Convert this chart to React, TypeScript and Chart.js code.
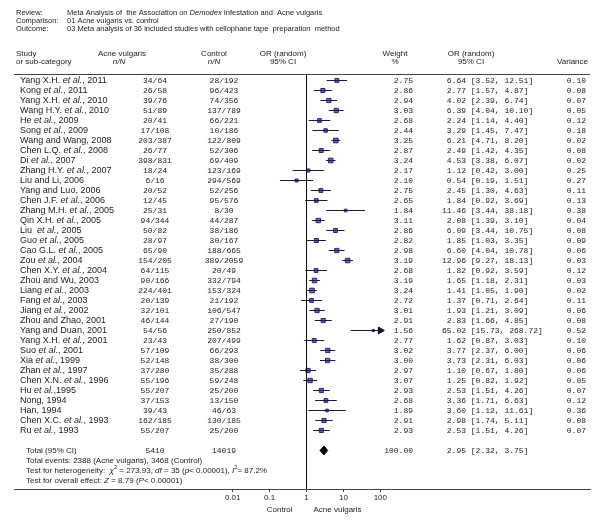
import React, { useEffect, useRef } from "react";
import { Chart, registerables } from "chart.js";

Chart.register(...registerables);

// ---------------- data ----------------
const STUDIES = [
  "Yang X.H. et al., 2011", "Kong et al., 2011", "Yang X.H. et al., 2010", "Wang H.Y. et al., 2010",
  "He et al., 2009", "Song et al., 2009", "Wang and Wang, 2008", "Chen L.Q. et al., 2008",
  "Di et al., 2007", "Zhang H.Y. et al., 2007", "Liu and Li, 2006", "Yang and Luo, 2006",
  "Chen J.F. et al., 2006", "Zhang M.H. et al., 2005", "Qin X.H. et al., 2005", "Liu  et al., 2005",
  "Guo et al., 2005", "Cao G.L. et al., 2005", "Zou et al., 2004", "Chen X.Y. et al., 2004",
  "Zhou and Wu, 2003", "Liang et al., 2003", "Fang et al., 2003", "Jiang et al., 2002",
  "Zhou and Zhao, 2001", "Yang and Duan, 2001", "Yang X.H. et al., 2001", "Suo et al., 2001",
  "Xia et al., 1999", "Zhan et al., 1997", "Chen X.N. et al., 1996", "Hu et al.,1995",
  "Nong, 1994", "Han, 1994", "Chen X.C. et al., 1993", "Ru et al., 1993",
];
const ACNE_NN = [
  "34/64", "26/58", "39/76", "51/89", "20/41", "17/108", "203/387", "26/77", "398/831", "18/24",
  "6/16", "20/52", "12/45", "25/31", "94/344", "50/82", "28/97", "65/90", "154/205", "64/115",
  "90/166", "224/401", "20/139", "32/101", "46/144", "54/56", "23/43", "57/109", "52/148", "37/280",
  "55/196", "55/207", "37/153", "39/43", "162/185", "55/207",
];
const CONTROL_NN = [
  "28/192", "96/423", "74/356", "137/789", "66/221", "10/186", "122/809", "52/306", "69/409", "123/169",
  "294/569", "52/256", "95/576", "8/30", "44/287", "38/186", "30/167", "188/665", "389/2059", "20/49",
  "332/794", "153/324", "21/192", "106/547", "27/190", "250/852", "207/499", "66/293", "38/300", "35/288",
  "59/248", "25/200", "13/150", "46/63", "130/185", "25/200",
];
const WEIGHTS = [
  2.75, 2.86, 2.94, 3.03, 2.68, 2.44, 3.25, 2.87, 3.24, 2.17,
  2.10, 2.75, 2.65, 1.84, 3.11, 2.86, 2.82, 2.98, 3.19, 2.68,
  3.19, 3.24, 2.72, 3.01, 2.91, 1.56, 2.77, 3.02, 3.00, 2.97,
  3.07, 2.93, 2.68, 1.89, 2.91, 2.93,
];
const OR = [
  6.64, 2.77, 4.02, 6.39, 2.24, 3.29, 6.21, 2.49, 4.53, 1.12,
  0.54, 2.45, 1.84, 11.46, 2.08, 6.09, 1.85, 6.60, 12.96, 1.82,
  1.65, 1.41, 1.37, 1.93, 2.83, 65.02, 1.62, 3.77, 3.73, 1.10,
  1.25, 2.53, 3.36, 3.60, 2.98, 2.53,
];
const CI_LO = [
  3.52, 1.57, 2.39, 4.04, 1.14, 1.45, 4.71, 1.42, 3.38, 0.42,
  0.19, 1.30, 0.92, 3.44, 1.39, 3.44, 1.03, 4.04, 9.27, 0.92,
  1.18, 1.05, 0.71, 1.21, 1.66, 15.73, 0.87, 2.37, 2.31, 0.67,
  0.82, 1.51, 1.71, 1.12, 1.74, 1.51,
];
const CI_HI = [
  12.51, 4.87, 6.74, 10.10, 4.40, 7.47, 8.20, 4.35, 6.07, 3.00,
  1.51, 4.63, 3.69, 38.18, 3.10, 10.75, 3.35, 10.78, 18.13, 3.59,
  2.31, 1.90, 2.64, 3.09, 4.85, 268.72, 3.03, 6.00, 6.03, 1.80,
  1.92, 4.26, 6.63, 11.61, 5.11, 4.26,
];
const VARIANCE = [
  0.10, 0.08, 0.07, 0.05, 0.12, 0.18, 0.02, 0.08, 0.02, 0.25,
  0.27, 0.11, 0.13, 0.38, 0.04, 0.08, 0.09, 0.06, 0.03, 0.12,
  0.03, 0.02, 0.11, 0.06, 0.08, 0.52, 0.10, 0.06, 0.06, 0.06,
  0.05, 0.07, 0.12, 0.36, 0.08, 0.07,
];
const TOTAL_ACNE = "5410";
const TOTAL_CONTROL = "14019";
const TOTAL_WEIGHT = 100.0;
const TOTAL_OR = 2.95;
const TOTAL_LO = 2.32;
const TOTAL_HI = 3.75;

const TICK_VALUES = [0.01, 0.1, 1, 10, 100];
const TICK_LABELS = ["0.01", "0.1", "1", "10", "100"];
const PLOT_LIMIT = 100;

// ---------------- layout ----------------
const W = 602;
const H = 523;
const SANS = '"Liberation Sans", Arial, sans-serif';
const MONO = '"Liberation Mono", "Courier New", monospace';
const TOTAL_ROW = 37;
const Y_MIN = -0.65;
const Y_MAX = 40.85;
const X_MIN = 1.18e-8;
const X_MAX = 4.82e7;

const COL_ACNE = 155;
const COL_CTRL = 224;
const COL_WEIGHT_R = 413;
const COL_OR_L = 442;
const COL_VAR = 586;

type Part = { t: string; i?: boolean; sup?: boolean };

function drawRich(ctx: CanvasRenderingContext2D, parts: Part[], x: number, y: number, size: number) {
  let cx = x;
  for (const p of parts) {
    const s = p.sup ? size * 0.7 : size;
    ctx.font = `${p.i ? "italic " : ""}${s}px ${SANS}`;
    ctx.fillText(p.t, cx, p.sup ? y - size * 0.35 : y);
    cx += ctx.measureText(p.t).width;
  }
}

function nameParts(name: string): Part[] {
  const k = name.indexOf("et al.");
  if (k < 0) return [{ t: name }];
  return [{ t: name.slice(0, k) }, { t: "et al.", i: true }, { t: name.slice(k + 6) }];
}

function orText(or: number, lo: number, hi: number) {
  return `${or.toFixed(2).padStart(5, " ")} [${lo.toFixed(2)}, ${hi.toFixed(2)}]`;
}

const textPlugin = {
  id: "forestText",
  afterDraw(chart: any) {
    const ctx: CanvasRenderingContext2D = chart.ctx;
    const ys = chart.scales.y;
    const xs = chart.scales.x;
    const area = chart.chartArea;
    ctx.save();
    ctx.textBaseline = "middle";
    ctx.fillStyle = "#222";

    // review header
    const rs = 7.5;
    const hx = 67;
    ctx.textAlign = "left";
    ctx.font = `${rs}px ${SANS}`;
    ctx.fillText("Review:", 16, 12.5);
    ctx.fillText("Comparison:", 16, 20.5);
    ctx.fillText("Outcome:", 16, 28.5);
    drawRich(ctx, [
      { t: "Meta Analysis of  the Association on " }, { t: "Demodex", i: true },
      { t: " Infestation and  Acne vulgaris" },
    ], hx, 12.5, rs);
    drawRich(ctx, [{ t: "01 Acne vulgaris vs. control" }], hx, 20.5, rs);
    drawRich(ctx, [{ t: "03 Meta analysis of 36 included studies with cellophane tape  preparation  method" }], hx, 28.5, rs);

    // column headers
    const hs = 8;
    const c1 = 53.5, c2 = 62;
    ctx.font = `${hs}px ${SANS}`;
    ctx.textAlign = "left";
    ctx.fillText("Study", 16, c1);
    ctx.fillText("or sub-category", 16, c2);
    ctx.fillText("Acne vulgaris", 98, c1);
    ctx.textAlign = "center";
    ctx.font = `italic ${hs}px ${SANS}`;
    ctx.fillText("n/N", 119, c2);
    ctx.font = `${hs}px ${SANS}`;
    ctx.fillText("Control", 214, c1);
    ctx.font = `italic ${hs}px ${SANS}`;
    ctx.fillText("n/N", 214, c2);
    ctx.font = `${hs}px ${SANS}`;
    ctx.fillText("OR (random)", 283, c1);
    ctx.fillText("95% CI", 283, c2);
    ctx.fillText("Weight", 395, c1);
    ctx.fillText("%", 395, c2);
    ctx.fillText("OR (random)", 471, c1);
    ctx.fillText("95% CI", 471, c2);
    ctx.textAlign = "right";
    ctx.fillText("Variance", 588, c2);

    // header rule
    ctx.strokeStyle = "#444";
    ctx.lineWidth = 1;
    ctx.beginPath();
    ctx.moveTo(area.left, Math.round(area.top) + 0.5);
    ctx.lineTo(area.right, Math.round(area.top) + 0.5);
    ctx.stroke();

    // study rows
    const ds = 8;
    for (let i = 0; i < STUDIES.length; i++) {
      const y = ys.getPixelForValue(i);
      ctx.textAlign = "left";
      drawRich(ctx, nameParts(STUDIES[i]), 20, y, 9);
      ctx.font = `${ds}px ${MONO}`;
      ctx.textAlign = "center";
      ctx.fillText(ACNE_NN[i], COL_ACNE, y);
      ctx.fillText(CONTROL_NN[i], COL_CTRL, y);
      ctx.textAlign = "right";
      ctx.fillText(WEIGHTS[i].toFixed(2), COL_WEIGHT_R, y);
      ctx.textAlign = "left";
      ctx.fillText(orText(OR[i], CI_LO[i], CI_HI[i]), COL_OR_L, y);
      ctx.textAlign = "right";
      ctx.fillText(VARIANCE[i].toFixed(2), COL_VAR, y);
    }

    // total row
    const ty = ys.getPixelForValue(TOTAL_ROW);
    ctx.textAlign = "left";
    ctx.font = `${hs}px ${SANS}`;
    ctx.fillText("Total (95% CI)", 26, ty);
    ctx.font = `${ds}px ${MONO}`;
    ctx.textAlign = "center";
    ctx.fillText(TOTAL_ACNE, COL_ACNE, ty);
    ctx.fillText(TOTAL_CONTROL, COL_CTRL, ty);
    ctx.textAlign = "right";
    ctx.fillText(TOTAL_WEIGHT.toFixed(2), COL_WEIGHT_R, ty);
    ctx.textAlign = "left";
    ctx.fillText(orText(TOTAL_OR, TOTAL_LO, TOTAL_HI), COL_OR_L, ty);

    drawRich(ctx, [{ t: "Total events: 2388 (Acne vulgaris), 3468 (Control)" }], 26, ys.getPixelForValue(TOTAL_ROW + 1), hs);
    drawRich(ctx, [
      { t: "Test for heterogeneity:  " }, { t: "χ", i: true }, { t: "2", sup: true },
      { t: " = 273.93, " }, { t: "df", i: true }, { t: " = 35 (" }, { t: "p", i: true },
      { t: "< 0.00001), " }, { t: "I", i: true }, { t: "2", sup: true }, { t: "= 87.2%" },
    ], 26, ys.getPixelForValue(TOTAL_ROW + 2), hs);
    drawRich(ctx, [
      { t: "Test for overall effect: " }, { t: "Z", i: true }, { t: " = 8.79 (" }, { t: "P", i: true },
      { t: "< 0.00001)" },
    ], 26, ys.getPixelForValue(TOTAL_ROW + 3), hs);

    // favours labels
    const x1 = xs.getPixelForValue(1);
    ctx.font = `${hs}px ${SANS}`;
    ctx.textAlign = "right";
    ctx.fillText("Control", x1 - 14, 510);
    ctx.textAlign = "left";
    ctx.fillText("Acne vulgaris", x1 + 7, 510);
    ctx.restore();
  },
};

export default function App() {
  const ref = useRef<HTMLCanvasElement | null>(null);
  useEffect(() => {
    if (!ref.current) return;
    const ciData: any[] = [];
    const arrows: any[] = [];
    for (let i = 0; i < STUDIES.length; i++) {
      ciData.push({ x: CI_LO[i], y: i });
      ciData.push({ x: Math.min(CI_HI[i], PLOT_LIMIT), y: i });
      ciData.push({ x: NaN, y: NaN });
      if (CI_HI[i] > PLOT_LIMIT) arrows.push({ x: PLOT_LIMIT, y: i });
    }
    const boxes = OR.map((v, i) => ({ x: v, y: i }));
    const diamond = [
      { x: TOTAL_LO, y: TOTAL_ROW },
      { x: TOTAL_OR, y: TOTAL_ROW - 0.45 },
      { x: TOTAL_HI, y: TOTAL_ROW },
      { x: TOTAL_OR, y: TOTAL_ROW + 0.45 },
      { x: TOTAL_LO, y: TOTAL_ROW },
    ];
    const chart = new Chart(ref.current, {
      type: "scatter",
      data: {
        datasets: [
          {
            type: "line",
            data: [{ x: 1, y: Y_MIN }, { x: 1, y: Y_MAX }],
            borderColor: "#111",
            borderWidth: 1,
            pointRadius: 0,
            fill: false,
          } as any,
          {
            type: "line",
            data: ciData,
            borderColor: "#1a1a40",
            borderWidth: 1,
            pointRadius: 0,
            spanGaps: false,
            fill: false,
          } as any,
          {
            type: "scatter",
            data: boxes,
            pointStyle: "rect",
            pointRadius: WEIGHTS.map((w) => w),
            backgroundColor: "#6a6ab8",
            borderColor: "#23238a",
            borderWidth: 1,
          } as any,
          {
            type: "scatter",
            data: arrows,
            pointStyle: "triangle",
            rotation: 90,
            pointRadius: 4,
            backgroundColor: "#111",
            borderColor: "#111",
          } as any,
          {
            type: "line",
            data: diamond,
            borderColor: "#000",
            backgroundColor: "#000",
            borderWidth: 1,
            pointRadius: 0,
            fill: "shape",
          } as any,
        ],
      },
      options: {
        responsive: false,
        animation: false,
        layout: { padding: { top: 74, left: 14, right: 12, bottom: 0 } },
        plugins: { legend: { display: false }, tooltip: { enabled: false } },
        scales: {
          x: {
            type: "logarithmic",
            min: X_MIN,
            max: X_MAX,
            afterBuildTicks: (s: any) => {
              s.ticks = TICK_VALUES.map((v) => ({ value: v }));
            },
            afterFit: (s: any) => {
              s.height = 34;
            },
            ticks: {
              autoSkip: false,
              maxRotation: 0,
              padding: 1,
              color: "#222",
              font: { family: SANS, size: 8 },
              callback: (v: any) => TICK_LABELS[TICK_VALUES.indexOf(Number(v))],
            },
            grid: { drawOnChartArea: false, tickLength: 3, color: "#444" },
            border: { display: true, color: "#444", width: 1 },
          },
          y: {
            type: "linear",
            display: false,
            reverse: true,
            min: Y_MIN,
            max: Y_MAX,
          },
        },
      },
      plugins: [textPlugin],
    } as any);
    return () => chart.destroy();
  }, []);
  return (
    <div style={{ position: "fixed", left: 0, top: 0, width: W, height: H, background: "#fff" }}>
      <canvas ref={ref} width={W} height={H} style={{ width: W, height: H, display: "block" }} />
    </div>
  );
}
